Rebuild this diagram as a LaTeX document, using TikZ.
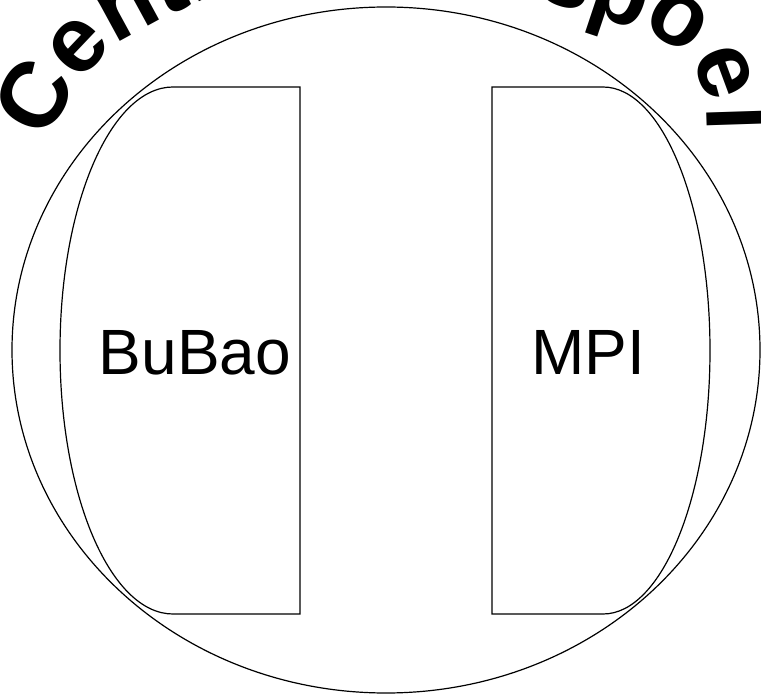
\documentclass[tikz,border=0pt]{standalone}
\usepackage{fontspec}
\setmainfont{Liberation Sans}
\usetikzlibrary{decorations.text}

\begin{document}
\begin{tikzpicture}[x=0.75pt,y=0.75pt,line width=0.9pt,
    boxtext/.style={font=\fontsize{48}{48}\selectfont, anchor=base}]
    \useasboundingbox (0,0) rectangle (761,697);
    \clip (0,0) rectangle (761,697);

    % outer ring
    \draw (386,347) ellipse [x radius=374, y radius=343];

    % the two halves
    \draw (300,610) -- (173,610) arc[start angle=90, end angle=270, x radius=113, y radius=263.5] -- (300,83) -- cycle;
    \draw (492,610) -- (603,610) arc[start angle=90, end angle=-90, x radius=107, y radius=263.5] -- (492,83) -- cycle;

    \node[boxtext] (bubao) at (195,322) {BuBao};
    \node[boxtext] (mpi) at (588,322) {MPI};

    % title round the top
    \path[decorate, decoration={text along path, text align={fit to path stretching spaces},
        text={|\fontsize{70}{70}\selectfont\bfseries|Centrale spoel}}]
        (46,555) to[out=62,in=236] (78,611) to[out=52,in=222] (111,647)
        to[out=40,in=210] (156,675) to[out=28,in=205] (182,687)
        to[out=25,in=180] (380,745) to[out=0,in=160] (555,693)
        to[out=-20,in=158] (605,678) to[out=-24,in=148] (657,661)
        to[out=-36,in=120] (693,632) to[out=-60,in=95] (706,589)
        to[out=-85,in=92] (707,565);
\end{tikzpicture}
\end{document}
